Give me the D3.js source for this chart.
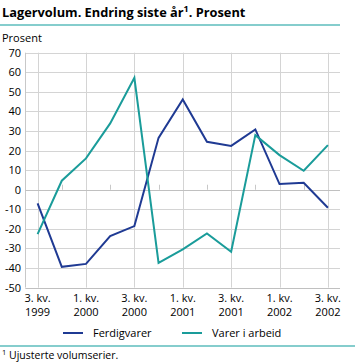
<!DOCTYPE html>
<html><head><meta charset="utf-8">
<script src="https://cdn.jsdelivr.net/npm/d3@7"></script>
<style>
body{margin:0;background:#fff;}
svg{display:block;font-family:"Open Sans","DejaVu Sans",sans-serif;}
</style></head>
<body><svg id="c" width="357" height="364"></svg>
<script>
const quarters = ["3. kv. 1999","4. kv. 1999","1. kv. 2000","2. kv. 2000","3. kv. 2000","4. kv. 2000","1. kv. 2001","2. kv. 2001","3. kv. 2001","4. kv. 2001","1. kv. 2002","2. kv. 2002","3. kv. 2002"];
const ferdigvarer = [-7, -39.4, -37.9, -23.7, -18.6, 26.5, 46.1, 24.5, 22.4, 30.8, 2.9, 3.5, -9.2];
const varerIArbeid = [-22.7, 4.6, 16, 33.9, 57.2, -37.4, -30.5, -22.3, -31.7, 27.9, 17.7, 9.7, 22.8];
const yTicks = [70,60,50,40,30,20,10,0,-10,-20,-30,-40,-50];
const xLabelQuarters = ["3. kv. 1999","1. kv. 2000","3. kv. 2000","1. kv. 2001","3. kv. 2001","1. kv. 2002","3. kv. 2002"];
const seriesNames = ["Ferdigvarer","Varer i arbeid"];
const colors = ["#1f3a93","#1a9c9a"];

const svg = d3.select("#c");
const pL = 25.5, pR = 340, pT = 52.7, pB = 287.6;
const x = d3.scalePoint().domain(quarters).range([pL, pR]).padding(0.5);
const y = d3.scaleLinear().domain([-50,70]).range([pB, pT]);

// title
const t = svg.append("text").attr("x",2).attr("y",17).attr("font-size",12.8).attr("font-weight","bold").attr("fill","#000");
t.append("tspan").text("Lagervolum. Endring siste år");
t.append("tspan").text("1").attr("font-size",9).attr("dy",-5);
t.append("tspan").text(". Prosent").attr("dy",5);
svg.append("line").attr("x1",0).attr("x2",340).attr("y1",25).attr("y2",25).attr("stroke","#5cbcbc").attr("stroke-width",1.5);

svg.append("text").attr("x",2).attr("y",42).attr("font-size",11).attr("fill","#000").text("Prosent");

// gridlines
const g = svg.append("g");
g.selectAll(".h").data(yTicks).join("line")
  .attr("x1",pL).attr("x2",pR)
  .attr("y1",d=>Math.round(y(d))+0.5).attr("y2",d=>Math.round(y(d))+0.5)
  .attr("stroke","#d4d4d4").attr("stroke-width",1);
g.selectAll(".v").data(xLabelQuarters).join("line")
  .attr("x1",d=>Math.round(x(d))+0.5).attr("x2",d=>Math.round(x(d))+0.5)
  .attr("y1",pT).attr("y2",pB)
  .attr("stroke","#d4d4d4").attr("stroke-width",1);
// minor ticks on zero line
g.selectAll(".m").data(quarters.filter(q=>!xLabelQuarters.includes(q))).join("line")
  .attr("x1",d=>Math.round(x(d))+0.5).attr("x2",d=>Math.round(x(d))+0.5)
  .attr("y1",y(0)-5).attr("y2",y(0))
  .attr("stroke","#c8c8c8").attr("stroke-width",1);
// axes
svg.append("line").attr("x1",pL).attr("x2",pL).attr("y1",pT).attr("y2",pB).attr("stroke","#c8c8c8");
svg.append("line").attr("x1",pL).attr("x2",pR).attr("y1",Math.round(y(0))+0.5).attr("y2",Math.round(y(0))+0.5).attr("stroke","#c0c0c0");
svg.append("line").attr("x1",pL).attr("x2",pR).attr("y1",Math.round(pB)+0.5).attr("y2",Math.round(pB)+0.5).attr("stroke","#c0c0c0");

// y labels
svg.selectAll(".yl").data(yTicks).join("text")
  .attr("x",21).attr("y",d=>y(d)+4).attr("text-anchor","end").attr("font-size",11).attr("fill","#000").text(d=>d);

// x labels
const xl = svg.selectAll(".xl").data(xLabelQuarters).join("text")
  .attr("text-anchor","middle").attr("font-size",11).attr("fill","#000");
xl.append("tspan").attr("x",d=>x(d)).attr("y",302).text(d=>d.split(" ").slice(0,2).join(" "));
xl.append("tspan").attr("x",d=>x(d)).attr("y",316).text(d=>d.split(" ")[2]);

// lines
const line = d3.line().x((d,i)=>x(quarters[i])).y(d=>y(d));
[ferdigvarer, varerIArbeid].forEach((s,i)=>{
  svg.append("path").attr("d",line(s)).attr("fill","none").attr("stroke",colors[i]).attr("stroke-width",2).attr("stroke-linejoin","miter");
});

// legend
const lx = [63, 182];
seriesNames.forEach((n,i)=>{
  svg.append("line").attr("x1",lx[i]).attr("x2",lx[i]+20).attr("y1",333).attr("y2",333).attr("stroke",colors[i]).attr("stroke-width",2);
  svg.append("text").attr("x",lx[i]+30).attr("y",337).attr("font-size",11).attr("fill","#000").text(n);
});

svg.append("line").attr("x1",0).attr("x2",355).attr("y1",346).attr("y2",346).attr("stroke","#5cbcbc").attr("stroke-width",1.5);
const f = svg.append("text").attr("x",2).attr("y",359).attr("font-size",10.5).attr("fill","#000");
f.append("tspan").text("1").attr("font-size",7.5).attr("dy",-4);
f.append("tspan").text(" Ujusterte volumserier.").attr("dy",4);
</script></body></html>
